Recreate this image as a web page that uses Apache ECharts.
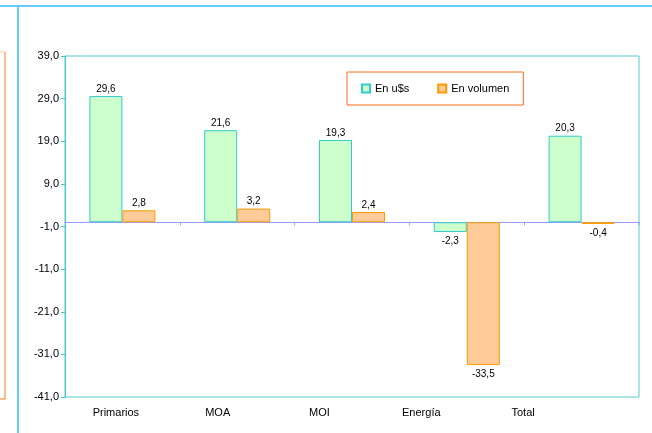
<!DOCTYPE html>
<html>
<head>
<meta charset="utf-8">
<script src="https://cdn.jsdelivr.net/npm/echarts@6/dist/echarts.min.js"></script>
<style>html,body{margin:0;padding:0;background:#fff;}#c{width:652px;height:433px;}</style>
</head>
<body>
<div id="c"></div>
<script>
var categories = ['Primarios', 'MOA', 'MOI', 'Energía', 'Total'];
var enUsd = [29.6, 21.6, 19.3, -2.3, 20.3];
var enVolumen = [2.8, 3.2, 2.4, -33.5, -0.4];
var yTickLabels = ['-41,0', '-31,0', '-21,0', '-11,0', '-1,0', '9,0', '19,0', '29,0', '39,0'];
var yMin = -41, yMax = 39;

function fmt(v) { return v.toFixed(1).replace('.', ','); }
function items(arr) {
  return arr.map(function (v) {
    return { value: v, label: { position: v < 0 ? 'bottom' : 'top', distance: v < 0 ? 4 : 2 } };
  });
}

var chart = echarts.init(document.getElementById('c'), null, { renderer: 'canvas' });
var font = 'Liberation Sans, Arial, sans-serif';
chart.setOption({
  animation: false,
  textStyle: { fontFamily: font },
  grid: [
    { left: 65, right: 13, top: 56, bottom: 36, show: true, borderColor: '#55CCCC', borderWidth: 1, backgroundColor: '#fff' },
    { left: 65, right: 78, top: 56, bottom: 36, show: false }
  ],
  legend: {
    left: 347, top: 72,
    data: ['En u$s', 'En volumen'],
    backgroundColor: '#fff',
    borderColor: '#FF6A1A', borderWidth: 1,
    padding: [11, 14, 11, 14],
    itemWidth: 8, itemHeight: 8, itemGap: 28,
    icon: 'rect',
    textStyle: { fontSize: 11, color: '#000', fontFamily: font }
  },
  xAxis: [
    { type: 'category', gridIndex: 0, data: categories,
      axisLine: { onZero: true, onZeroAxisIndex: 0, lineStyle: { color: '#9999FF', width: 1 } },
      axisTick: { show: true, length: 3, lineStyle: { color: '#9999FF' } },
      axisLabel: { show: false }, splitLine: { show: false } },
    { type: 'category', gridIndex: 1, data: categories, position: 'bottom',
      axisLine: { show: false }, axisTick: { show: false },
      axisLabel: { show: true, margin: 10, fontSize: 11, color: '#000', fontFamily: font } }
  ],
  yAxis: [
    { type: 'value', gridIndex: 0, min: yMin, max: yMax, show: false, splitLine: { show: false } },
    { type: 'category', gridIndex: 0, data: yTickLabels, boundaryGap: false, position: 'left',
      axisLine: { show: true, lineStyle: { color: '#44CCCC' } },
      axisTick: { show: true, length: 4, lineStyle: { color: '#44CCCC' } },
      axisLabel: { fontSize: 11, color: '#000', margin: 6, fontFamily: font },
      splitLine: { show: false } },
    { type: 'value', gridIndex: 1, min: yMin, max: yMax, show: false }
  ],
  series: [
    { name: 'En u$s', type: 'bar', xAxisIndex: 0, yAxisIndex: 0, data: items(enUsd),
      barWidth: 33, barGap: '0%',
      itemStyle: { color: '#CCFFCC', borderColor: '#33CCCC', borderWidth: 1 },
      label: { show: true, fontSize: 10, color: '#000', fontFamily: font, formatter: function (p) { return fmt(p.value); } } },
    { name: 'En volumen', type: 'bar', xAxisIndex: 0, yAxisIndex: 0, data: items(enVolumen),
      barWidth: 33, barGap: '0%',
      itemStyle: { color: '#FFCC99', borderColor: '#FF9900', borderWidth: 1 },
      label: { show: true, fontSize: 10, color: '#000', fontFamily: font, formatter: function (p) { return fmt(p.value); } } }
  ],
  graphic: [
    { type: 'line', shape: { x1: 0, y1: 6, x2: 652, y2: 6 }, style: { stroke: '#66CCFF', lineWidth: 2 } },
    { type: 'line', shape: { x1: 18, y1: 6, x2: 18, y2: 433 }, style: { stroke: '#66CCFF', lineWidth: 2 } },
    { type: 'line', shape: { x1: 5, y1: 52, x2: 5, y2: 399 }, style: { stroke: '#FF7722', lineWidth: 1 } },
    { type: 'line', shape: { x1: 0, y1: 52, x2: 5, y2: 52 }, style: { stroke: '#FFCC99', lineWidth: 1 } },
    { type: 'line', shape: { x1: 0, y1: 399, x2: 5, y2: 399 }, style: { stroke: '#FF7722', lineWidth: 1 } }
  ]
});
</script>
</body>
</html>
